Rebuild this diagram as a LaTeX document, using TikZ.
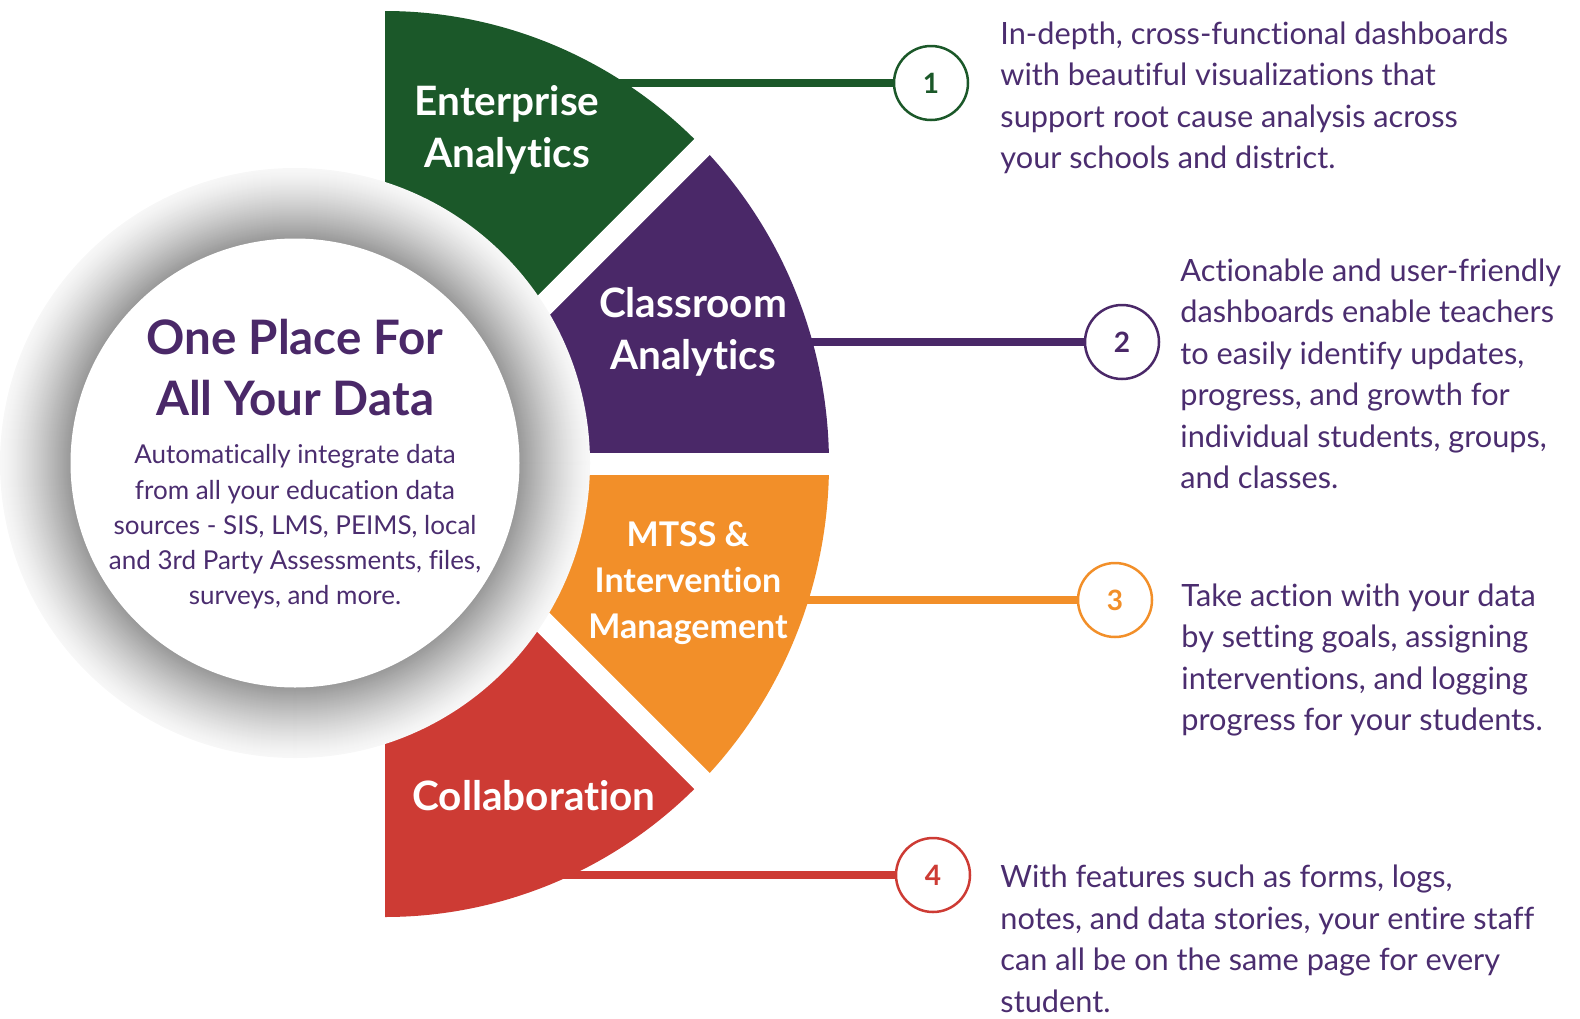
\documentclass[tikz,border=0pt]{standalone}
\usepackage{fontspec}
\setmainfont{Lato}[Ligatures=NoCommon]
\usepackage{tikz}
\usetikzlibrary{positioning}
\definecolor{entgreen}{HTML}{1B5829}
\definecolor{clspurple}{HTML}{4A2868}
\definecolor{mtssorange}{HTML}{F28F29}
\definecolor{colred}{HTML}{CD3B34}
\definecolor{txtpurple}{HTML}{4B2D6F}

\tikzset{
  seclabel/.style={text=white, align=center, font=\bfseries\fontsize{40.5}{52}\selectfont},
  numdot/.style={circle, draw=#1, text=#1, fill=white, line width=2.5pt, minimum size=74pt, inner sep=0pt, font=\bfseries\fontsize{28}{28}\selectfont},
  desc/.style={text=txtpurple, align=left, inner sep=0pt, font=\fontsize{30.7}{41.5}\selectfont},
  tap/.style={draw=#1, line width=8pt}
}

\begin{document}
\begin{tikzpicture}[x=1pt, y=-1pt]
  \useasboundingbox (0,0) rectangle (1580,1018);
  \coordinate (hub) at (385,464);

  % the four sectors
  \fill[entgreen] (hub) -- ++(-90:444 and 453) arc[start angle=-90, end angle=-45, x radius=444, y radius=453] -- cycle;
  \fill[clspurple] (hub) -- ++(-45:444 and 453) arc[start angle=-45, end angle=0, x radius=444, y radius=453] -- cycle;
  \fill[mtssorange] (hub) -- ++(0:444 and 453) arc[start angle=0, end angle=45, x radius=444, y radius=453] -- cycle;
  \fill[colred] (hub) -- ++(45:444 and 453) arc[start angle=45, end angle=90, x radius=444, y radius=453] -- cycle;
  \foreach \a in {-45,0,45}
    \draw[white, line width=22pt] (hub) -- ++(\a:470 and 470);

  % shadow ring and centre disc
  \foreach \r in {295,294,...,225}{
    \pgfmathsetmacro\pct{3+37*((295-\r)/70)^1.3}
    \fill[black!\pct] (295,463) circle[radius=\r];
  }
  \fill[white] (295,463) circle[radius=224.5];

  \node (title) [text=clspurple, align=center, font=\bfseries\fontsize{47.5}{61}\selectfont] at (295,368) {One Place For\\All Your Data};
  \node (blurb) [text=txtpurple, align=center, font=\fontsize{26}{35.3}\selectfont] at (295,527) {Automatically integrate data\\from all your education data\\sources - SIS, LMS, PEIMS, local\\and 3rd Party Assessments, files,\\surveys, and more.};

  % connectors
  \coordinate (ent-tap) at (612,83);
  \coordinate (cls-tap) at (790,342);
  \coordinate (mtss-tap) at (790,600);
  \coordinate (col-tap) at (555,875);
  \node (num1) [numdot=entgreen] at (931,83) {1};
  \node (num2) [numdot=clspurple] at (1122,342) {2};
  \node (num3) [numdot=mtssorange] at (1115,600) {3};
  \node (num4) [numdot=colred] at (933,875) {4};
  \draw[tap=entgreen] (ent-tap) -- (num1);
  \draw[tap=clspurple] (cls-tap) -- (num2);
  \draw[tap=mtssorange] (mtss-tap) -- (num3);
  \draw[tap=colred] (col-tap) -- (num4);

  \node (ent) [seclabel] at (507,130) {Enterprise\\Analytics};
  \node (cls) [seclabel] at (693,332) {Classroom\\Analytics};
  \node (mtss) [seclabel, font=\bfseries\fontsize{34}{46}\selectfont] at (688,583) {MTSS \&\\Intervention\\Management};
  \node (col) [seclabel] at (534,796) {Collaboration};

  \node (desc1) [desc, right=31pt of num1, yshift=-15pt] {In-depth, cross-functional dashboards\\with beautiful visualizations that\\support root cause analysis across\\your schools and district.};
  \node (desc2) [desc, right=20pt of num2, yshift=-32pt] {Actionable and user-friendly\\dashboards enable teachers\\to easily identify updates,\\progress, and growth for\\individual students, groups,\\and classes.};
  \node (desc3) [desc, right=28pt of num3, yshift=-60pt] {Take action with your data\\by setting goals, assigning\\interventions, and logging\\progress for your students.};
  \node (desc4) [desc, right=29pt of num4, yshift=-64pt] {With features such as forms, logs,\\notes, and data stories, your entire staff\\can all be on the same page for every\\student.};
\end{tikzpicture}
\end{document}
